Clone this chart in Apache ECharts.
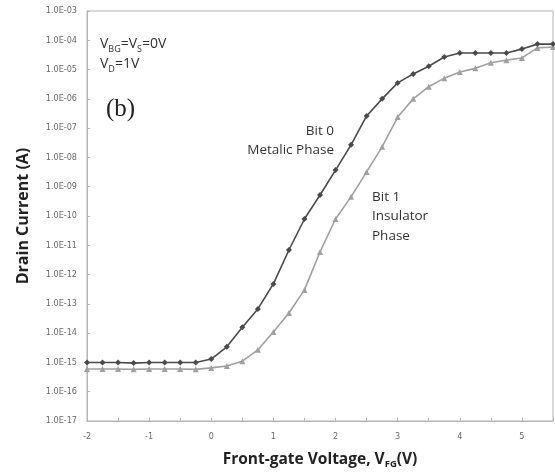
<!DOCTYPE html>
<html>
<head>
<meta charset="utf-8">
<script src="https://cdn.jsdelivr.net/npm/echarts@6/dist/echarts.min.js"></script>
<style>
  html, body { margin: 0; padding: 0; background: #fff; }
  #chart { width: 555px; height: 476px; }
</style>
</head>
<body>
<div id="chart"></div>
<script>
// front-gate voltage (V)
const voltages = [-2, -1.75, -1.5, -1.25, -1, -0.75, -0.5, -0.25, 0, 0.25, 0.5, 0.75, 1, 1.25, 1.5, 1.75,
  2, 2.25, 2.5, 2.75, 3, 3.25, 3.5, 3.75, 4, 4.25, 4.5, 4.75, 5, 5.25, 5.5]

// drain current (A), Bit 0 - metalic phase
const bit0Current = [1.0e-15, 1.0e-15, 1.0e-15, 0.95e-15, 1.0e-15, 1.0e-15, 1.0e-15, 1.0e-15, 1.3e-15, 3.4e-15,
  1.6e-14, 6.7e-14, 4.8e-13, 6.9e-12, 7.9e-11, 5.2e-10, 3.7e-9, 2.7e-8, 2.6e-7, 1.0e-6,
  3.5e-6, 7.1e-6, 1.3e-5, 2.7e-5, 3.7e-5, 3.7e-5, 3.7e-5, 3.7e-5, 5.0e-5, 7.4e-5, 7.4e-5]

// drain current (A), Bit 1 - insulator phase
const bit1Current = [6.0e-16, 6.0e-16, 6.0e-16, 5.8e-16, 6.0e-16, 6.0e-16, 6.0e-16, 5.8e-16, 6.5e-16, 7.6e-16,
  1.1e-15, 2.7e-15, 1.1e-14, 4.9e-14, 3.0e-13, 5.9e-12, 7.9e-11, 4.5e-10, 3.2e-9, 2.3e-8,
  2.4e-7, 1.0e-6, 2.6e-6, 5.1e-6, 8.3e-6, 1.1e-5, 1.7e-5, 2.1e-5, 2.5e-5, 5.5e-5, 5.9e-5]

const toPoints = (ys) => voltages.map((v, i) => [v, Math.log10(ys[i])])

const expLabel = (v) => {
  const n = Math.round(Math.abs(v))
  return '1.0E' + (v < 0 ? '-' : '+') + (n < 10 ? '0' + n : n)
}

const axisGray = '#b4b4b4'
const labelStyle = { color: '#6a6a6a', fontSize: 9, fontFamily: 'DejaVu Sans Condensed' }
const noteFont = 'Open Sans'

const chart = echarts.init(document.getElementById('chart'))
chart.setOption({
  backgroundColor: '#fff',
  animation: false,
  grid: {
    left: 87,
    right: 2,
    top: 11,
    bottom: 55,
    show: true,
    borderColor: axisGray,
    borderWidth: 1,
  },
  xAxis: {
    type: 'value',
    min: -2,
    max: 5.5,
    interval: 1,
    name: 'Front-gate Voltage, V{sub|FG}(V)',
    nameLocation: 'middle',
    nameGap: 30,
    nameTextStyle: {
      color: '#222',
      fontSize: 15.5,
      fontWeight: 'bold',
      fontFamily: noteFont,
      rich: { sub: { fontSize: 9.5, fontWeight: 'bold', verticalAlign: 'bottom', padding: [8, 0, 0, 0], fontFamily: noteFont, color: '#222' } },
    },
    axisLine: { onZero: false, lineStyle: { color: axisGray } },
    axisTick: { inside: true, length: 3, lineStyle: { color: axisGray } },
    minorTick: { show: true, splitNumber: 2, length: 3, lineStyle: { color: axisGray } },
    splitLine: { show: false },
    axisLabel: { ...labelStyle, margin: 11, showMaxLabel: false },
  },
  yAxis: {
    type: 'value',
    min: -17,
    max: -3,
    interval: 1,
    name: 'Drain Current (A)',
    nameLocation: 'middle',
    nameGap: 56,
    nameTextStyle: { color: '#222', fontSize: 16, fontWeight: 'bold', fontFamily: noteFont },
    axisLine: { onZero: false, lineStyle: { color: axisGray } },
    axisTick: { inside: true, length: 3, lineStyle: { color: axisGray } },
    splitLine: { show: false },
    axisLabel: { ...labelStyle, margin: 10, formatter: expLabel },
  },
  series: [
    {
      name: 'Bit 0',
      type: 'line',
      data: toPoints(bit0Current),
      symbol: 'diamond',
      symbolSize: 6,
      lineStyle: { color: '#4a4a4a', width: 1.6 },
      itemStyle: { color: '#4a4a4a' },
      z: 3,
    },
    {
      name: 'Bit 1',
      type: 'line',
      data: toPoints(bit1Current),
      symbol: 'triangle',
      symbolSize: 6,
      lineStyle: { color: '#a0a0a0', width: 1.6 },
      itemStyle: { color: '#a0a0a0' },
      z: 2,
    },
  ],
  graphic: [
    {
      type: 'text', left: 100, top: 34,
      style: {
        text: 'V{s|BG}=V{s|S}=0V\nV{s|D}=1V',
        fontSize: 14, lineHeight: 20, fontFamily: noteFont, fill: '#333',
        rich: { s: { fontSize: 9, fontFamily: noteFont, fill: '#333', verticalAlign: 'bottom', padding: [6, 0, 0, 0] } },
      },
    },
    {
      type: 'text', left: 106, top: 97,
      style: { text: '(b)', fontSize: 25, fontFamily: 'Liberation Serif', fill: '#222' },
    },
    {
      type: 'text', x: 334, y: 124,
      style: { text: 'Bit 0', align: 'right', verticalAlign: 'top', fontSize: 13.5, fontFamily: noteFont, fill: '#333' },
    },
    {
      type: 'text', x: 334, y: 143,
      style: { text: 'Metalic Phase', align: 'right', verticalAlign: 'top', fontSize: 13.5, fontFamily: noteFont, fill: '#333' },
    },
    {
      type: 'text', left: 372, top: 187,
      style: { text: 'Bit 1\nInsulator\nPhase', fontSize: 13.5, lineHeight: 19.5, fontFamily: noteFont, fill: '#333' },
    },
  ],
})
</script>
</body>
</html>
